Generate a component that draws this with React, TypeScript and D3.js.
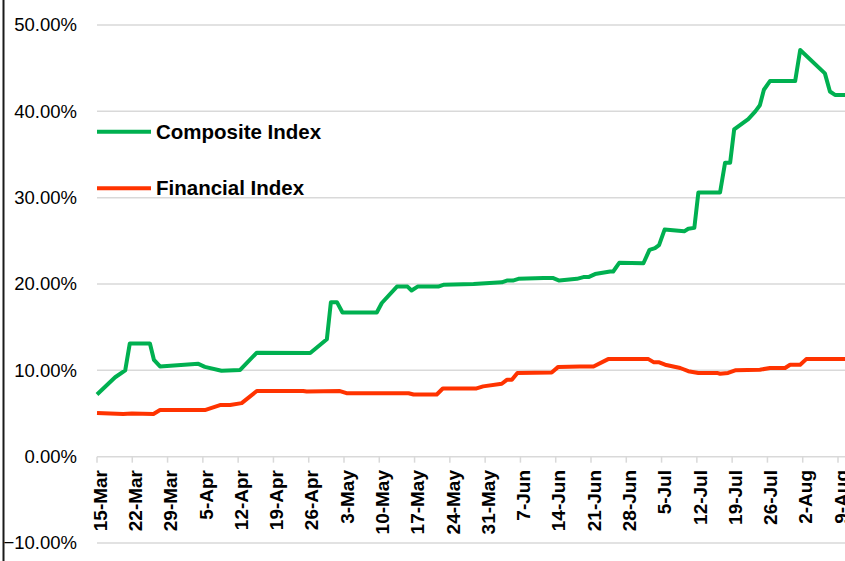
import React from 'react';
import * as d3 from 'd3';

// day offsets counted from 15-Mar, values in percent
const compositeDays = [0, 3.6, 5.6, 6.5, 10.5, 11.3, 12.5, 20.1, 21.4, 24.7, 28.4, 31.7, 42.3, 45.6, 46.4, 47.6, 48.7, 55.5, 56.5, 59.5, 61.6, 62.4, 63.6, 67.7, 68.7, 74.7, 80.3, 81.3, 82.5, 83.6, 88.6, 90.4, 91.7, 95.2, 96.5, 97.5, 98.8, 101.8, 102.4, 103.6, 108.4, 109.6, 110.7, 111.5, 112.6, 116.5, 117.3, 118.5, 119.3, 123.6, 124.6, 125.6, 126.4, 129.2, 130.6, 131.5, 132.3, 133.5, 138.5, 139.5, 144.4, 145.4, 146.4, 148.6];
const compositeVals = [7.2, 9.2, 10.0, 13.1, 13.1, 11.2, 10.45, 10.75, 10.4, 9.95, 10.05, 12.05, 12.0, 13.6, 17.9, 17.9, 16.7, 16.7, 17.8, 19.7, 19.7, 19.25, 19.7, 19.7, 19.9, 20.0, 20.2, 20.4, 20.4, 20.6, 20.7, 20.7, 20.4, 20.6, 20.8, 20.8, 21.15, 21.45, 21.45, 22.45, 22.4, 23.95, 24.15, 24.5, 26.3, 26.1, 26.4, 26.5, 30.6, 30.6, 34.05, 34.05, 37.9, 39.1, 40.0, 40.7, 42.5, 43.5, 43.5, 47.1, 44.4, 42.3, 41.9, 41.9];

const financialDays = [0, 5.2, 6.9, 11.2, 12.5, 21.4, 24.4, 26.4, 28.7, 31.7, 40.9, 41.6, 48.2, 49.5, 61.8, 62.8, 67.4, 68.6, 75.3, 76.6, 80.3, 81.3, 82.3, 83.4, 90.2, 91.5, 95.8, 98.5, 101.4, 109.4, 110.4, 111.4, 112.7, 115.7, 117.3, 119.3, 123.0, 123.6, 125.2, 126.6, 131.5, 133.5, 136.5, 137.5, 139.5, 140.7, 148.6];
const financialVals = [5.06, 4.94, 5.0, 4.94, 5.4, 5.4, 5.98, 5.98, 6.2, 7.6, 7.6, 7.55, 7.6, 7.35, 7.35, 7.2, 7.2, 7.9, 7.9, 8.14, 8.45, 8.9, 8.9, 9.7, 9.76, 10.4, 10.45, 10.45, 11.3, 11.3, 10.95, 10.95, 10.65, 10.27, 9.9, 9.7, 9.7, 9.6, 9.7, 10.0, 10.07, 10.27, 10.27, 10.65, 10.65, 11.3, 11.3];

const xLabels = ['15-Mar', '22-Mar', '29-Mar', '5-Apr', '12-Apr', '19-Apr', '26-Apr', '3-May', '10-May', '17-May', '24-May', '31-May', '7-Jun', '14-Jun', '21-Jun', '28-Jun', '5-Jul', '12-Jul', '19-Jul', '26-Jul', '2-Aug', '9-Aug'];
const yTicks = [-10, 0, 10, 20, 30, 40, 50];

const series = [
  { name: 'Composite Index', days: compositeDays, vals: compositeVals, color: '#00B050' },
  { name: 'Financial Index', days: financialDays, vals: financialVals, color: '#FF3300' },
];

const width = 845;
const height = 561;

export default function App() {
  const x = d3.scaleLinear().domain([0, 147]).range([97, 838]);
  const y = d3.scaleLinear().domain([-10, 50]).range([543, 25]);

  const line = d3
    .line<[number, number]>()
    .x(d => x(d[0]))
    .y(d => y(d[1]));

  const font = '"Liberation Sans", Arial, sans-serif';

  return (
    <svg
      width={width}
      height={height}
      style={{ position: 'fixed', left: 0, top: 0, background: '#fff' }}
      fontFamily={font}
    >
      {/* chart border */}
      <line x1={3.5} x2={3.5} y1={0} y2={height} stroke="#1a1a1a" strokeWidth={2} />

      {/* grid + y labels */}
      {yTicks.map(t => (
        <g key={t}>
          <line x1={x(0)} x2={width + 10} y1={y(t)} y2={y(t)} stroke="#D9D9D9" strokeWidth={1.5} />
          <text x={77} y={y(t)} dy="0.35em" textAnchor="end" fontSize={18.5} fill="#000">
            {d3.format('.2f')(t) + '%'}
          </text>
        </g>
      ))}

      {/* x ticks + labels */}
      {xLabels.map((lab, i) => {
        const px = x(i * 7);
        return (
          <g key={lab}>
            <line x1={px} x2={px} y1={y(0)} y2={y(0) + 6} stroke="#D9D9D9" strokeWidth={1.5} />
            <text
              transform={`translate(${px + 3},470) rotate(-90)`}
              dy="0.35em"
              textAnchor="end"
              fontSize={19}
              fontWeight="bold"
              fill="#000"
            >
              {lab}
            </text>
          </g>
        );
      })}

      {/* series */}
      {series.map(s => (
        <path
          key={s.name}
          d={line(s.days.map((d, i) => [d, s.vals[i]] as [number, number])) || ''}
          fill="none"
          stroke={s.color}
          strokeWidth={4}
          strokeLinejoin="round"
        />
      ))}

      {/* legend */}
      {series.map((s, i) => {
        const ly = 131.7 + i * 56.6;
        return (
          <g key={'lg' + s.name}>
            <line x1={97} x2={151} y1={ly} y2={ly} stroke={s.color} strokeWidth={4} />
            <text x={156} y={ly} dy="0.35em" fontSize={20.5} fontWeight="bold" fill="#000">
              {s.name}
            </text>
          </g>
        );
      })}
    </svg>
  );
}
